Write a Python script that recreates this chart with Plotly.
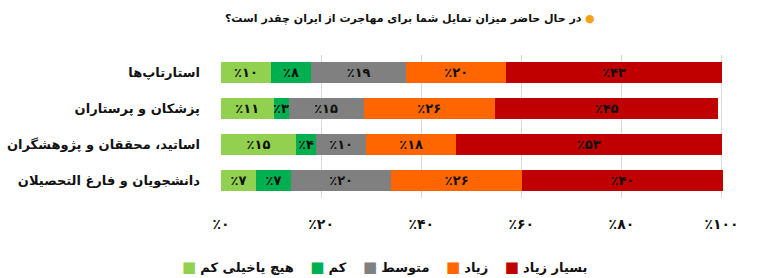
import plotly.graph_objects as go

categories = ["استارتاپ‌ها", "پزشکان و پرستاران", "اساتید، محققان و پژوهشگران", "دانشجویان و فارغ التحصیلان"]
series_names = ["هیچ یاخیلی کم", "کم", "متوسط", "زیاد", "بسیار زیاد"]
colors = ["#92D050", "#00B050", "#808080", "#FF6600", "#C00000"]

very_low = [10, 10.5, 15, 7]
low = [8, 3, 4, 7]
medium = [19, 15, 10, 20]
high = [20, 26.2, 18, 26.2]
very_high = [43, 44.7, 53, 40]
series_values = [very_low, low, medium, high, very_high]

shown_labels = [
    [10, 11, 15, 7],
    [8, 3, 4, 7],
    [19, 15, 10, 20],
    [20, 26, 18, 26],
    [43, 45, 53, 40],
]

tick_vals = [0, 20, 40, 60, 80, 100]
title_text = "در حال حاضر میزان تمایل شما برای مهاجرت از ایران چقدر است؟"

FA_DIGITS = str.maketrans("0123456789", "۰۱۲۳۴۵۶۷۸۹")


def fa_pct(v):
    return "٪" + str(v).translate(FA_DIGITS)


def b(s):
    return "<b>" + s + "</b>"


FONT = "DejaVu Sans"
INK = "#111111"

fig = go.Figure()
for name, vals, labs, col in zip(series_names, series_values, shown_labels, colors):
    fig.add_trace(go.Bar(
        y=[b(c) for c in categories], x=vals, name=name, orientation="h",
        marker=dict(color=col, line=dict(width=0)),
        text=[b(fa_pct(v)) for v in labs],
        textposition="inside", insidetextanchor="middle", textangle=0,
        textfont=dict(family=FONT, size=13, color=INK),
        hoverinfo="skip", showlegend=False,
    ))

# legend drawn as one text line (left-to-right order, square left of each label)
legend_parts = []
for name, col in zip(series_names, colors):
    legend_parts.append(
        "<span style='color:%s;font-size:15px'>■</span>\u00a0<b>%s</b>\u200e" % (col, name)
    )
legend_text = "\u00a0\u00a0\u00a0\u00a0".join(legend_parts)

fig.add_annotation(
    text=legend_text, xref="paper", yref="paper", x=0.325, y=-0.4825,
    xanchor="center", yanchor="middle", showarrow=False,
    font=dict(family=FONT, size=13, color=INK),
)

fig.update_layout(
    barmode="stack",
    bargap=0.41,
    width=782, height=278,
    margin=dict(l=221, r=58, t=55, b=80, autoexpand=False),
    paper_bgcolor="white", plot_bgcolor="white",
    font=dict(family=FONT, size=13, color=INK),
    uniformtext=dict(minsize=13, mode="show"),
    title=dict(
        text=b(title_text) + " <span style='color:#F7A11A'>●</span>",
        x=0.524, xanchor="center", xref="container", y=0.933, yanchor="middle",
        font=dict(family=FONT, size=11, color=INK),
    ),
    showlegend=False,
    xaxis=dict(
        range=[0, 100.5], tickvals=tick_vals, ticktext=[b(fa_pct(v)) for v in tick_vals],
        showgrid=True, gridcolor="#D9D9D9", gridwidth=1, zeroline=False,
        showline=False, ticks="", ticklabelstandoff=16,
        tickfont=dict(family=FONT, size=14, color=INK),
        fixedrange=True,
    ),
    yaxis=dict(
        autorange="reversed", showgrid=False, ticks="", ticklabelstandoff=20,
        tickfont=dict(family=FONT, size=13, color=INK),
        fixedrange=True,
    ),
)

fig.write_html("out.html")
